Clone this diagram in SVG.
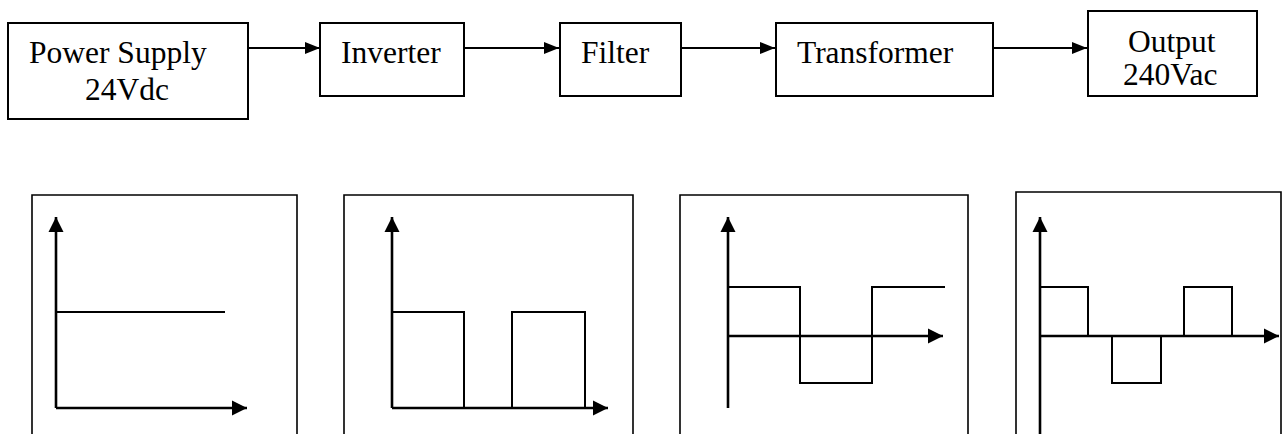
<svg xmlns="http://www.w3.org/2000/svg" width="1287" height="434" viewBox="0 0 1287 434">
  <style>
    .box { fill: #fff; stroke: #000; stroke-width: 2; }
    .panel { fill: none; stroke: #000; stroke-width: 1.6; }
    .label { font-family: "Liberation Serif", "Times New Roman", serif; font-size: 31.5px; fill: #000; }
    .link { stroke: #000; stroke-width: 2.2; fill: none; marker-end: url(#head); }
    .axis { stroke: #000; stroke-width: 2.6; fill: none; }
    .axis-arrow { marker-end: url(#axisHead); }
    .wave { stroke: #000; stroke-width: 2; fill: none; stroke-linejoin: miter; }
  </style>
  <defs>
    <marker id="head" markerUnits="userSpaceOnUse" markerWidth="16" markerHeight="14" refX="15" refY="7" orient="auto">
      <path d="M0,1 L15,7 L0,13 z" fill="#000"/>
    </marker>
    <marker id="axisHead" markerUnits="userSpaceOnUse" markerWidth="16" markerHeight="16" refX="15" refY="8" orient="auto">
      <path d="M0,0.5 L15,8 L0,15.5 z" fill="#000"/>
    </marker>
  </defs>
  <rect width="1287" height="434" fill="#fff"/>

  <!-- block chain -->
  <g id="power-supply">
    <rect class="box" x="8" y="23" width="240" height="96"/>
    <text class="label" x="29" y="63">Power Supply</text>
    <text class="label" x="85" y="100">24Vdc</text>
  </g>
  <g id="inverter">
    <rect class="box" x="320" y="23" width="144" height="73"/>
    <text class="label" x="341" y="63">Inverter</text>
  </g>
  <g id="filter">
    <rect class="box" x="560" y="23" width="121" height="73"/>
    <text class="label" x="581" y="63">Filter</text>
  </g>
  <g id="transformer">
    <rect class="box" x="776" y="23" width="217" height="73"/>
    <text class="label" x="797" y="63">Transformer</text>
  </g>
  <g id="output">
    <rect class="box" x="1088" y="11" width="169" height="85"/>
    <text class="label" x="1128" y="52">Output</text>
    <text class="label" x="1123" y="85">240Vac</text>
  </g>

  <g id="connectors">
    <line class="link" x1="248" y1="48" x2="320" y2="48"/>
    <line class="link" x1="464" y1="48" x2="559" y2="48"/>
    <line class="link" x1="681" y1="48" x2="775" y2="48"/>
    <line class="link" x1="993" y1="48" x2="1087" y2="48"/>
  </g>

  <!-- waveform panels -->
  <g id="wave-dc">
    <path class="panel" d="M32,436 V195 H297 V436"/>
    <path class="axis axis-arrow" d="M56,408 V217"/>
    <path class="axis axis-arrow" d="M56,408 H247"/>
    <path class="wave" d="M56,312 H225"/>
  </g>
  <g id="wave-inverter">
    <path class="panel" d="M344,436 V195 H633 V436"/>
    <path class="axis axis-arrow" d="M392,408 V217"/>
    <path class="axis axis-arrow" d="M392,408 H608"/>
    <path class="wave" d="M392,312 H464 V408 M512,408 V312 H585 V408"/>
  </g>
  <g id="wave-filter">
    <path class="panel" d="M680,436 V195 H968 V436"/>
    <path class="axis axis-arrow" d="M728,408 V217"/>
    <path class="axis axis-arrow" d="M728,336 H943"/>
    <path class="wave" d="M728,287 H800 V383 H872 V287 H945"/>
  </g>
  <g id="wave-output">
    <path class="panel" d="M1016,436 V192 H1281 V436"/>
    <path class="axis axis-arrow" d="M1040,436 V217"/>
    <path class="axis axis-arrow" d="M1040,336 H1279"/>
    <path class="wave" d="M1040,287 H1088 V336 M1112,336 V383 H1161 V336 M1184,336 V287 H1232 V336"/>
  </g>
</svg>
